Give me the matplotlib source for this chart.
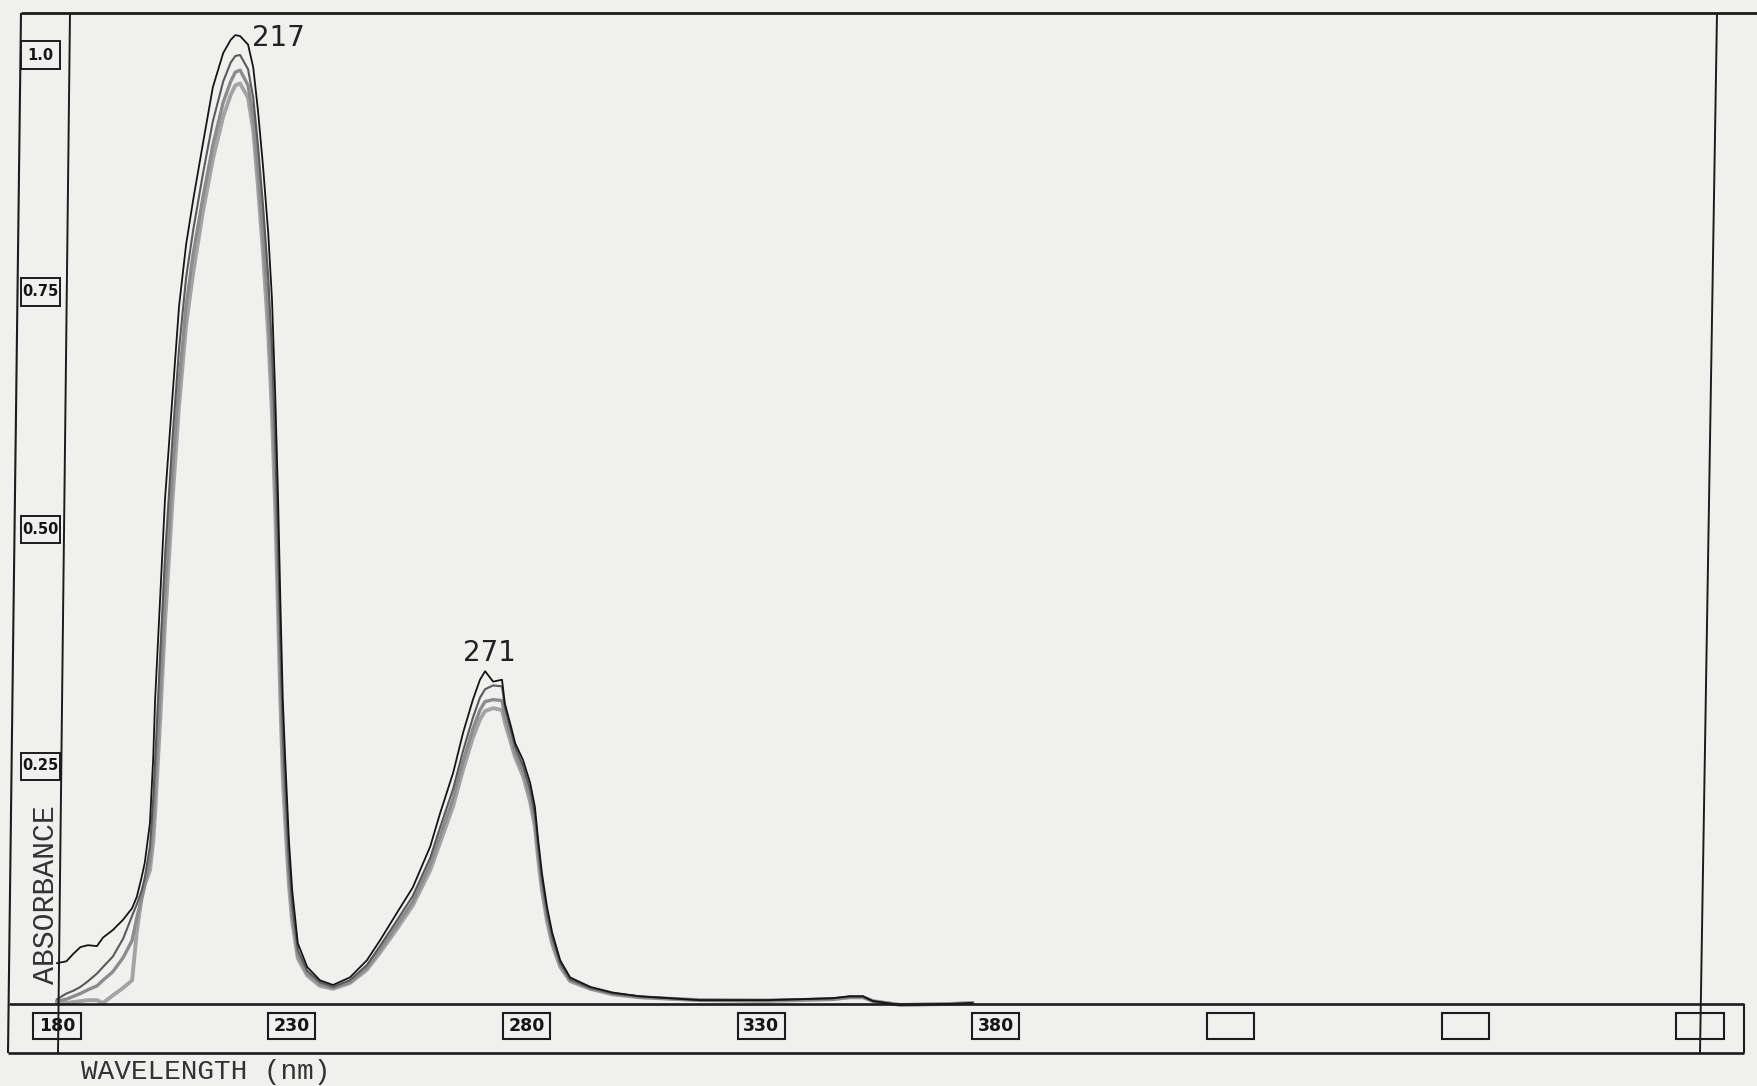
import matplotlib
matplotlib.use("Agg")
import matplotlib.pyplot as plt
from matplotlib.lines import Line2D
from matplotlib.patches import Rectangle
from matplotlib.transforms import blended_transform_factory

# ---------------- data ----------------
wavelength = [180.0, 182.0, 183.5, 185.0, 186.6, 188.5, 189.8, 191.9, 194.1, 196.0,
              197.0, 198.0, 198.7, 199.8, 200.5, 200.9, 202.0, 203.0, 204.6, 206.0,
              207.5, 209.0, 211.1, 213.2, 215.4, 217.0, 218.0, 219.0, 220.7, 221.8,
              222.8, 223.9, 225.0, 225.8, 226.5, 227.1, 227.6, 228.1, 228.6, 229.4,
              230.1, 231.3, 233.3, 236.0, 238.8, 242.4, 246.0, 248.8, 252.4, 255.8,
              259.5, 261.6, 264.4, 266.5, 268.6, 270.1, 271.2, 272.9, 274.8, 275.4,
              276.9, 277.6, 279.3, 280.8, 281.8, 282.5, 283.3, 284.4, 285.5, 287.2,
              289.3, 293.6, 298.4, 304.2, 317.0, 331.3, 345.3, 348.9, 351.7, 353.8,
              359.6, 370.2, 375.0]

absorbance_1 = [0.042, 0.044, 0.052, 0.059, 0.061, 0.060, 0.069, 0.077, 0.088, 0.100,
                0.112, 0.132, 0.148, 0.190, 0.259, 0.320, 0.430, 0.531, 0.640, 0.735,
                0.800, 0.847, 0.907, 0.966, 1.002, 1.016, 1.021, 1.020, 1.011, 0.987,
                0.942, 0.882, 0.812, 0.742, 0.640, 0.531, 0.420, 0.320, 0.259, 0.172,
                0.119, 0.063, 0.038, 0.024, 0.019, 0.027, 0.045, 0.066, 0.095, 0.122,
                0.165, 0.200, 0.243, 0.285, 0.320, 0.341, 0.350, 0.339, 0.341, 0.316,
                0.288, 0.274, 0.256, 0.232, 0.207, 0.172, 0.137, 0.101, 0.074, 0.045,
                0.027, 0.017, 0.011, 0.007, 0.003, 0.003, 0.005, 0.007, 0.007, 0.002,
                -0.002, -0.001, 0.000]

absorbance_2 = [0.004, 0.010, 0.013, 0.017, 0.023, 0.031, 0.038, 0.049, 0.068, 0.092,
                0.104, 0.118, 0.132, 0.165, 0.215, 0.255, 0.370, 0.470, 0.595, 0.690,
                0.765, 0.815, 0.875, 0.930, 0.972, 0.992, 0.999, 1.000, 0.985, 0.955,
                0.905, 0.840, 0.765, 0.690, 0.590, 0.480, 0.375, 0.285, 0.230, 0.150,
                0.103, 0.056, 0.034, 0.022, 0.017, 0.024, 0.040, 0.060, 0.087, 0.113,
                0.153, 0.185, 0.226, 0.266, 0.301, 0.322, 0.331, 0.335, 0.334, 0.312,
                0.284, 0.270, 0.250, 0.225, 0.199, 0.165, 0.130, 0.095, 0.069, 0.042,
                0.025, 0.016, 0.010, 0.007, 0.003, 0.003, 0.005, 0.007, 0.007, 0.002,
                -0.002, -0.001, 0.000]

absorbance_3 = [0.002, 0.004, 0.007, 0.010, 0.014, 0.018, 0.024, 0.033, 0.048, 0.066,
                0.090, 0.110, 0.125, 0.150, 0.190, 0.225, 0.330, 0.430, 0.560, 0.655,
                0.735, 0.790, 0.850, 0.905, 0.950, 0.972, 0.982, 0.984, 0.968, 0.935,
                0.880, 0.810, 0.730, 0.650, 0.550, 0.440, 0.340, 0.258, 0.210, 0.138,
                0.094, 0.051, 0.031, 0.020, 0.016, 0.022, 0.037, 0.056, 0.082, 0.107,
                0.146, 0.176, 0.216, 0.255, 0.289, 0.309, 0.318, 0.320, 0.319, 0.303,
                0.277, 0.264, 0.244, 0.218, 0.192, 0.158, 0.124, 0.090, 0.065, 0.040,
                0.024, 0.015, 0.010, 0.006, 0.003, 0.003, 0.004, 0.006, 0.006, 0.002,
                -0.002, -0.001, 0.000]

absorbance_4 = [0.000, 0.000, 0.001, 0.002, 0.003, 0.003, 0.000, 0.008, 0.016, 0.024,
                0.075, 0.110, 0.125, 0.140, 0.170, 0.200, 0.300, 0.400, 0.530, 0.630,
                0.715, 0.770, 0.835, 0.890, 0.935, 0.958, 0.968, 0.970, 0.955, 0.920,
                0.862, 0.790, 0.705, 0.620, 0.520, 0.410, 0.315, 0.238, 0.192, 0.125,
                0.086, 0.047, 0.029, 0.018, 0.015, 0.021, 0.035, 0.053, 0.078, 0.103,
                0.140, 0.169, 0.208, 0.246, 0.280, 0.299, 0.308, 0.311, 0.309, 0.296,
                0.271, 0.259, 0.239, 0.212, 0.186, 0.152, 0.119, 0.086, 0.062, 0.038,
                0.023, 0.015, 0.009, 0.006, 0.003, 0.002, 0.004, 0.006, 0.006, 0.002,
                -0.002, -0.001, 0.000]

x_ticks = [180, 230, 280, 330, 380, 430, 480, 530]
x_tick_labels = ["180", "230", "280", "330", "380", "", "", ""]
y_ticks = [1.0, 0.75, 0.50, 0.25]
y_tick_labels = ["1.0", "0.75", "0.50", "0.25"]
peak_labels = ["217", "271"]
peak_label_pos = [(227.1, 1.018), (272.2, 0.369)]

# ---------------- figure ----------------
W, H = 1757, 1086
paper = "#f0f0ee"
ink = "#1c1c1c"
fig = plt.figure(figsize=(W / 100, H / 100), dpi=100, facecolor=paper)

def fx(px):
    return px / W

def fy(py):
    return 1 - py / H

ax = fig.add_axes([fx(57), fy(1003), fx(1700) - fx(57), fy(13) - fy(1003)])
ax.set_xlim(180, 530)
ax.set_ylim(0, 990 / 948)
ax.axis("off")

# frame lines (scanned chart paper, slightly skewed)
def fline(xs, ys, lw=1.6, color=ink, z=1):
    fig.add_artist(Line2D([fx(v) for v in xs], [fy(v) for v in ys],
                          transform=fig.transFigure, lw=lw, color=color,
                          zorder=z, solid_capstyle="butt"))

fline([21, 1757], [13, 13], lw=2.0)              # top
fline([21, 8], [13, 1053], lw=1.5)               # outer left
fline([70, 58], [13, 1053], lw=1.4)              # y axis
fline([1717, 1700], [13, 1053], lw=1.4)          # right inner
fline([9, 1744], [1004, 1004], lw=1.9)           # baseline
fline([8, 1744], [1053, 1053], lw=1.9)           # bottom frame
fline([1744, 1744], [1004, 1053], lw=1.5)        # outer right

# spectra
ax.plot(wavelength, absorbance_4, color="#a4a4a4", lw=2.8, clip_on=False, zorder=3)
ax.plot(wavelength, absorbance_3, color="#8c8c8c", lw=2.4, clip_on=False, zorder=3)
ax.plot(wavelength, absorbance_2, color="#5a5a5a", lw=1.5, clip_on=False, zorder=4)
ax.plot(wavelength, absorbance_1, color="#151515", lw=1.3, clip_on=False, zorder=5)

# x tick boxes (data x, axes y)
bx = blended_transform_factory(ax.transData, ax.transAxes)
box_w = 47 / 4.694
y0 = (1003 - 1039) / 990
bh = 26 / 990
for v, lab in zip(x_ticks, x_tick_labels):
    ax.add_patch(Rectangle((v - box_w / 2, y0), box_w, bh, transform=bx,
                           facecolor=paper, edgecolor=ink, lw=1.5,
                           clip_on=False, zorder=6))
    if lab:
        ax.text(v, y0 + bh / 2, lab, transform=bx, ha="center", va="center",
                fontsize=12.5, fontweight="bold", color="#151515",
                family="DejaVu Sans", zorder=7, clip_on=False)

# y tick boxes (figure x, data y)
by = blended_transform_factory(fig.transFigure, ax.transData)
ybh = 27 / 948
for v, lab in zip(y_ticks, y_tick_labels):
    fig.add_artist(Rectangle((fx(21), v - ybh / 2), fx(60) - fx(21), ybh,
                             transform=by, facecolor=paper, edgecolor=ink,
                             lw=1.4, zorder=6))
    fig.text(fx(40.5), v, lab, transform=by, ha="center", va="center",
             fontsize=10.5, fontweight="bold", color="#151515",
             family="DejaVu Sans", zorder=7)

# axis titles
fig.text(fx(46), fy(895), "ABSORBANCE", rotation=90, ha="center", va="center",
         fontsize=21.5, color="#333333", family="Liberation Mono")
fig.text(fx(81), fy(1079), "WAVELENGTH (nm)", ha="left", va="baseline",
         fontsize=20, color="#333333", family="Liberation Mono")

# peak labels
for lab, (px, py) in zip(peak_labels, peak_label_pos):
    ax.text(px, py, lab, ha="center", va="center", fontsize=20,
            color="#222222", family="DejaVu Sans", clip_on=False, zorder=8)

fig.savefig("out.png", dpi=100, facecolor=paper)
